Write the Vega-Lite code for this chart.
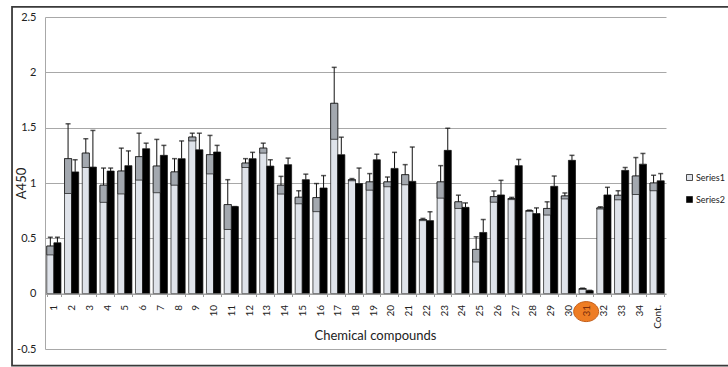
{
  "$schema": "https://vega.github.io/schema/vega-lite/v6.json",
  "width": 621,
  "height": 332,
  "autosize": {"type": "none"},
  "padding": {"left": 45, "top": 17, "right": 62, "bottom": 18},
  "background": "white",
  "config": {
    "view": {"stroke": null},
    "font": "Lato",
    "axisY": {
      "grid": true,
      "gridColor": "#a8a8a8",
      "gridWidth": 1,
      "domainColor": "#a8a8a8",
      "ticks": false,
      "labelPadding": 9,
      "labelFontSize": 11,
      "labelColor": "#222222",
      "titleFontSize": 13,
      "titleFontWeight": "normal",
      "titleColor": "#222222",
      "titleX": -20,
      "titleY": 166,
      "titleAlign": "center",
      "titleBaseline": "alphabetic"
    }
  },
  "datasets": {
    "bars": [
      {"c": "1", "s": "Series1", "v": 0.43, "u": 0.51, "lo": 0.35},
      {"c": "1", "s": "Series2", "v": 0.46, "u": 0.51},
      {"c": "2", "s": "Series1", "v": 1.22, "u": 1.535, "lo": 0.905},
      {"c": "2", "s": "Series2", "v": 1.10, "u": 1.21},
      {"c": "3", "s": "Series1", "v": 1.27, "u": 1.40, "lo": 1.14},
      {"c": "3", "s": "Series2", "v": 1.144, "u": 1.475},
      {"c": "4", "s": "Series1", "v": 0.98, "u": 1.135, "lo": 0.825},
      {"c": "4", "s": "Series2", "v": 1.108, "u": 1.135},
      {"c": "5", "s": "Series1", "v": 1.108, "u": 1.315, "lo": 0.901},
      {"c": "5", "s": "Series2", "v": 1.157, "u": 1.29},
      {"c": "6", "s": "Series1", "v": 1.238, "u": 1.45, "lo": 1.026},
      {"c": "6", "s": "Series2", "v": 1.31, "u": 1.36},
      {"c": "7", "s": "Series1", "v": 1.153, "u": 1.394, "lo": 0.912},
      {"c": "7", "s": "Series2", "v": 1.25, "u": 1.34},
      {"c": "8", "s": "Series1", "v": 1.10, "u": 1.22, "lo": 0.98},
      {"c": "8", "s": "Series2", "v": 1.22, "u": 1.38},
      {"c": "9", "s": "Series1", "v": 1.415, "u": 1.45, "lo": 1.38},
      {"c": "9", "s": "Series2", "v": 1.30, "u": 1.45},
      {"c": "10", "s": "Series1", "v": 1.256, "u": 1.43, "lo": 1.082},
      {"c": "10", "s": "Series2", "v": 1.28, "u": 1.34},
      {"c": "11", "s": "Series1", "v": 0.805, "u": 1.03, "lo": 0.58},
      {"c": "11", "s": "Series2", "v": 0.787, "u": 0.787},
      {"c": "12", "s": "Series1", "v": 1.18, "u": 1.22, "lo": 1.14},
      {"c": "12", "s": "Series2", "v": 1.22, "u": 1.277},
      {"c": "13", "s": "Series1", "v": 1.315, "u": 1.36, "lo": 1.27},
      {"c": "13", "s": "Series2", "v": 1.153, "u": 1.21},
      {"c": "14", "s": "Series1", "v": 0.98, "u": 1.06, "lo": 0.90},
      {"c": "14", "s": "Series2", "v": 1.166, "u": 1.225},
      {"c": "15", "s": "Series1", "v": 0.871, "u": 0.93, "lo": 0.812},
      {"c": "15", "s": "Series2", "v": 1.03, "u": 1.08},
      {"c": "16", "s": "Series1", "v": 0.868, "u": 0.995, "lo": 0.741},
      {"c": "16", "s": "Series2", "v": 0.955, "u": 1.067},
      {"c": "17", "s": "Series1", "v": 1.72, "u": 2.045, "lo": 1.395},
      {"c": "17", "s": "Series2", "v": 1.256, "u": 1.414},
      {"c": "18", "s": "Series1", "v": 1.03, "u": 1.04, "lo": 1.02},
      {"c": "18", "s": "Series2", "v": 0.995, "u": 1.135},
      {"c": "19", "s": "Series1", "v": 1.01, "u": 1.085, "lo": 0.935},
      {"c": "19", "s": "Series2", "v": 1.21, "u": 1.26},
      {"c": "20", "s": "Series1", "v": 1.01, "u": 1.054, "lo": 0.966},
      {"c": "20", "s": "Series2", "v": 1.132, "u": 1.277},
      {"c": "21", "s": "Series1", "v": 1.075, "u": 1.166, "lo": 0.984},
      {"c": "21", "s": "Series2", "v": 1.015, "u": 1.325},
      {"c": "22", "s": "Series1", "v": 0.67, "u": 0.68, "lo": 0.66},
      {"c": "22", "s": "Series2", "v": 0.66, "u": 0.74},
      {"c": "23", "s": "Series1", "v": 1.01, "u": 1.157, "lo": 0.863},
      {"c": "23", "s": "Series2", "v": 1.295, "u": 1.495},
      {"c": "24", "s": "Series1", "v": 0.83, "u": 0.89, "lo": 0.77},
      {"c": "24", "s": "Series2", "v": 0.78, "u": 0.82},
      {"c": "25", "s": "Series1", "v": 0.40, "u": 0.514, "lo": 0.286},
      {"c": "25", "s": "Series2", "v": 0.553, "u": 0.67},
      {"c": "26", "s": "Series1", "v": 0.877, "u": 0.928, "lo": 0.826},
      {"c": "26", "s": "Series2", "v": 0.892, "u": 1.024},
      {"c": "27", "s": "Series1", "v": 0.86, "u": 0.87, "lo": 0.85},
      {"c": "27", "s": "Series2", "v": 1.157, "u": 1.213},
      {"c": "28", "s": "Series1", "v": 0.75, "u": 0.755, "lo": 0.745},
      {"c": "28", "s": "Series2", "v": 0.724, "u": 0.775},
      {"c": "29", "s": "Series1", "v": 0.77, "u": 0.83, "lo": 0.71},
      {"c": "29", "s": "Series2", "v": 0.97, "u": 1.063},
      {"c": "30", "s": "Series1", "v": 0.883, "u": 0.91, "lo": 0.856},
      {"c": "30", "s": "Series2", "v": 1.205, "u": 1.25},
      {"c": "31", "s": "Series1", "v": 0.045, "u": 0.05, "lo": 0.04},
      {"c": "31", "s": "Series2", "v": 0.027, "u": 0.03},
      {"c": "32", "s": "Series1", "v": 0.775, "u": 0.785, "lo": 0.765},
      {"c": "32", "s": "Series2", "v": 0.892, "u": 0.961},
      {"c": "33", "s": "Series1", "v": 0.889, "u": 0.93, "lo": 0.848},
      {"c": "33", "s": "Series2", "v": 1.114, "u": 1.14},
      {"c": "34", "s": "Series1", "v": 1.063, "u": 1.23, "lo": 0.896},
      {"c": "34", "s": "Series2", "v": 1.17, "u": 1.267},
      {"c": "Cont.", "s": "Series1", "v": 1.0, "u": 1.07, "lo": 0.93},
      {"c": "Cont.", "s": "Series2", "v": 1.02, "u": 1.085}
    ]
  },
  "resolve": {"scale": {"x": "independent"}},
  "layer": [
    {
      "data": {"values": [{"frame": "outer"}]},
      "mark": {"type": "rect", "fillOpacity": 0, "stroke": "#3a3a3a", "strokeWidth": 1.8, "clip": false},
      "encoding": {
        "x": {"datum": -0.0531, "type": "quantitative", "scale": {"domain": [0, 1], "nice": false, "zero": false}, "axis": null},
        "x2": {"datum": 1.103},
        "y": {"datum": 2.592, "type": "quantitative", "scale": {"domain": [-0.5, 2.5], "nice": false, "zero": false}, "axis": {"title": "A450", "values": [-0.5, 0, 0.5, 1, 1.5, 2, 2.5], "labelExpr": "'' + datum.value"}},
        "y2": {"datum": -0.651}
      }
    },
    {
      "data": {"name": "bars"},
      "layer": [
        {
          "mark": {"type": "bar", "stroke": "#111111", "strokeWidth": 0.7},
          "encoding": {
            "x": {"field": "c", "type": "nominal", "sort": null, "title": "Chemical compounds",
              "scale": {"domain": ["1","2","3","4","5","6","7","8","9","10","11","12","13","14","15","16","17","18","19","20","21","22","23","24","25","26","27","28","29","30","31","32","33","34","Cont."], "paddingInner": 0.2, "paddingOuter": 0.1},
              "axis": {
                "offset": -55.5,
                "labelAngle": 270,
                "labelFontSize": 10,
                "labelPadding": 8,
                "labelColor": {"condition": {"test": "datum.value == '31'", "value": "#7a2d0c"}, "value": "#222222"},
                "domainColor": "#9a9a9a",
                "tickColor": "#9a9a9a",
                "tickSize": 3,
                "tickBand": "extent",
                "zindex": 1,
                "titleFontSize": 13,
                "titleFontWeight": "normal",
                "titleColor": "#222222",
                "titleX": 330,
                "titleY": 45.5,
                "titleAlign": "center",
                "titleBaseline": "alphabetic"
              }
            },
            "xOffset": {"field": "s", "type": "nominal", "scale": {"domain": ["Series1", "Series2"], "paddingInner": 0, "paddingOuter": 0}},
            "y": {"field": "v", "type": "quantitative", "scale": {"domain": [-0.5, 2.5], "nice": false, "zero": false}, "axis": {"title": "A450", "values": [-0.5, 0, 0.5, 1, 1.5, 2, 2.5], "labelExpr": "'' + datum.value"}},
            "color": {"field": "s", "type": "nominal", "scale": {"domain": ["Series1", "Series2"], "range": ["#dfe3ea", "#000000"]},
              "legend": {"orient": "none", "legendX": 640, "legendY": 156, "title": null, "symbolType": "square", "symbolSize": 36, "symbolStrokeColor": "#222222", "symbolStrokeWidth": 0.8, "labelFontSize": 9, "labelColor": "#222222", "labelOffset": 2, "rowPadding": 11}}
          }
        },
        {
          "transform": [{"filter": "datum.s == 'Series1'"}],
          "mark": {"type": "bar", "fill": "#a3a8af", "stroke": "#111111", "strokeWidth": 0.7},
          "encoding": {
            "x": {"field": "c", "type": "nominal", "sort": null},
            "xOffset": {"field": "s", "type": "nominal"},
            "y": {"field": "lo", "type": "quantitative", "title": "A450"},
            "y2": {"field": "v"}
          }
        },
        {
          "mark": {"type": "rule", "color": "#111111", "strokeWidth": 1},
          "encoding": {
            "x": {"field": "c", "type": "nominal", "sort": null},
            "xOffset": {"field": "s", "type": "nominal"},
            "y": {"field": "v", "type": "quantitative", "title": "A450"},
            "y2": {"field": "u"}
          }
        },
        {
          "mark": {"type": "tick", "color": "#111111", "size": 5, "thickness": 1.5},
          "encoding": {
            "x": {"field": "c", "type": "nominal", "sort": null},
            "xOffset": {"field": "s", "type": "nominal"},
            "y": {"field": "u", "type": "quantitative", "title": "A450"}
          }
        },
        {
          "data": {"values": [{"c": "31"}]},
          "mark": {"type": "point", "filled": true, "shape": "M -1 0 A 1 0.8 0 1 0 1 0 A 1 0.8 0 1 0 -1 0 Z", "size": 625, "fill": "#ee7d24", "stroke": "#c4601c", "strokeWidth": 1, "opacity": 1},
          "encoding": {
            "x": {"field": "c", "type": "nominal", "sort": null},
            "y": {"datum": -0.162, "type": "quantitative", "title": "A450"}
          }
        }
      ]
    }
  ]
}
